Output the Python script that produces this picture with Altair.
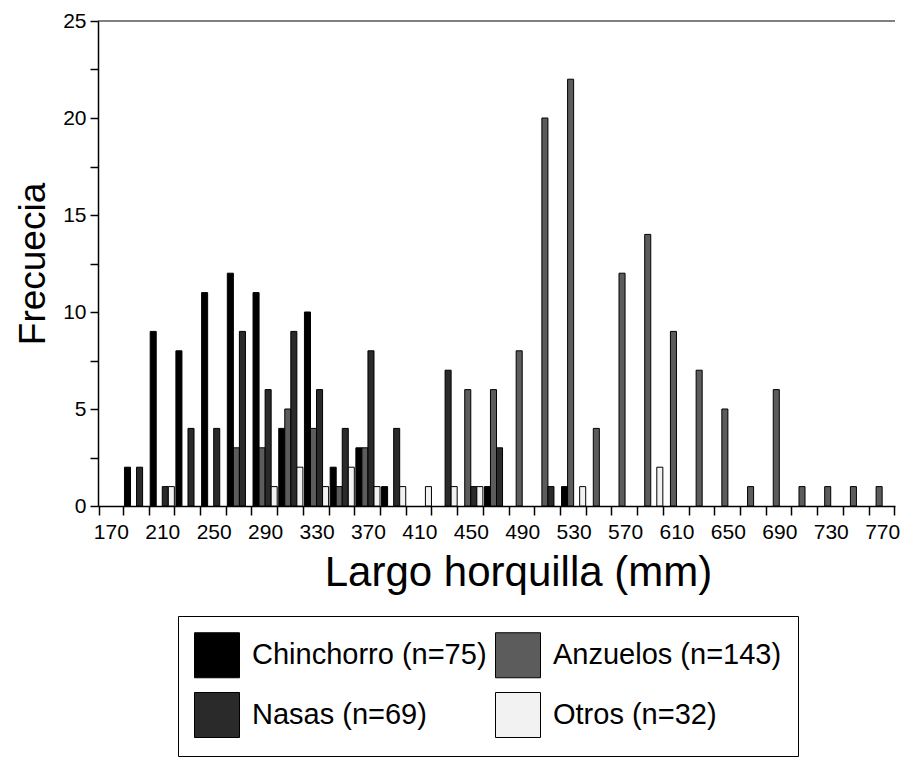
import altair as alt
import pandas as pd

cats = [170, 190, 210, 230, 250, 270, 290, 310, 330, 350, 370, 390, 410, 430, 450, 470,
        490, 510, 530, 550, 570, 590, 610, 630, 650, 670, 690, 710, 730, 750, 770]

chinchorro = [0, 2, 9, 8, 11, 12, 11, 4, 10, 2, 3, 1, 0, 0, 0, 1,
              0, 0, 1, 0, 0, 0, 0, 0, 0, 0, 0, 0, 0, 0, 0]
anzuelos = [0, 0, 0, 0, 0, 3, 3, 5, 4, 1, 3, 0, 0, 0, 6, 6,
            8, 20, 22, 4, 12, 14, 9, 7, 5, 1, 6, 1, 1, 1, 1]
nasas = [0, 2, 1, 4, 4, 9, 6, 9, 6, 4, 8, 4, 0, 7, 1, 3,
         0, 1, 0, 0, 0, 0, 0, 0, 0, 0, 0, 0, 0, 0, 0]
otros = [0, 0, 1, 0, 0, 0, 1, 2, 1, 2, 1, 1, 1, 1, 1, 0,
         0, 0, 1, 0, 0, 2, 0, 0, 0, 0, 0, 0, 0, 0, 0]

# order of the bars inside each group
bar_order = ["Chinchorro (n=75)", "Anzuelos (n=143)", "Nasas (n=69)", "Otros (n=32)"]
# legend order (filled column by column: Chinchorro/Nasas, Anzuelos/Otros)
legend_order = ["Chinchorro (n=75)", "Nasas (n=69)", "Anzuelos (n=143)", "Otros (n=32)"]
legend_colors = ["#000000", "#2a2a2a", "#5c5c5c", "#f2f2f2"]
y_ticks = [0, 2.5, 5, 7.5, 10, 12.5, 15, 17.5, 20, 22.5, 25]

rows = []
for name, vals in zip(bar_order, [chinchorro, anzuelos, nasas, otros]):
    for c, v in zip(cats, vals):
        rows.append({"largo": c, "serie": name, "frec": v})
df = pd.DataFrame(rows)

FONT = "Liberation Sans"
y_scale = alt.Scale(domain=[0, 25], nice=False, zero=True)

bars = alt.Chart(df).transform_filter("datum.frec > 0").mark_bar(
    stroke="black", strokeWidth=1
).encode(
    x=alt.X(
        "largo:O",
        scale=alt.Scale(domain=cats, paddingInner=0.06, paddingOuter=0.03),
        axis=alt.Axis(
            title="Largo horquilla (mm)",
            titleFontSize=42, titleFont=FONT, titleFontWeight="normal",
            titleColor="black", titlePadding=10, titleX=420,
            labelAngle=0, labelFontSize=21, labelFont=FONT, labelColor="black",
            labelExpr="(toNumber(datum.value) - 170) % 40 == 0 ? datum.label : ''",
            tickBand="extent", tickSize=9, tickColor="black", tickWidth=1.5,
            domainColor="black", domainWidth=1.5, labelPadding=6,
        ),
    ),
    xOffset=alt.XOffset("serie:N", scale=alt.Scale(domain=bar_order, paddingInner=0, paddingOuter=0)),
    y=alt.Y(
        "frec:Q",
        scale=y_scale,
        axis=alt.Axis(
            title="Frecuecia", values=y_ticks,
            labelExpr="datum.value % 5 == 0 ? datum.label : ''",
            titleFontSize=37, titleFont=FONT, titleFontWeight="normal",
            titleColor="black", titlePadding=10,
            labelFontSize=21, labelFont=FONT, labelColor="black",
            tickSize=8, tickColor="black", tickWidth=1.5,
            domainColor="black", domainWidth=1.5, grid=False, labelPadding=4,
        ),
    ),
    color=alt.Color(
        "serie:N",
        scale=alt.Scale(domain=legend_order, range=legend_colors),
        legend=alt.Legend(
            title=None, orient="none", legendX=80, legendY=595,
            columns=2, direction="vertical", symbolType="square", symbolSize=2025,
            symbolStrokeColor="black", symbolStrokeWidth=1,
            labelFontSize=29, labelFont=FONT, labelColor="black", labelLimit=400,
            labelOffset=12, columnPadding=6, rowPadding=10, padding=16,
            strokeColor="black", fillColor="white",
        ),
    ),
)

top_line = alt.Chart(pd.DataFrame({"y": [25]})).mark_rule(color="black", strokeWidth=1).encode(
    y=alt.Y("y:Q", scale=y_scale)
)

chart = alt.layer(bars, top_line).properties(
    width=797, height=485,
    padding={"left": 6, "top": 2, "right": 0, "bottom": 0},
).configure(font=FONT, view=alt.ViewConfig(stroke=None))

chart.save("out.html", embed_options={"renderer": "svg", "actions": False})
